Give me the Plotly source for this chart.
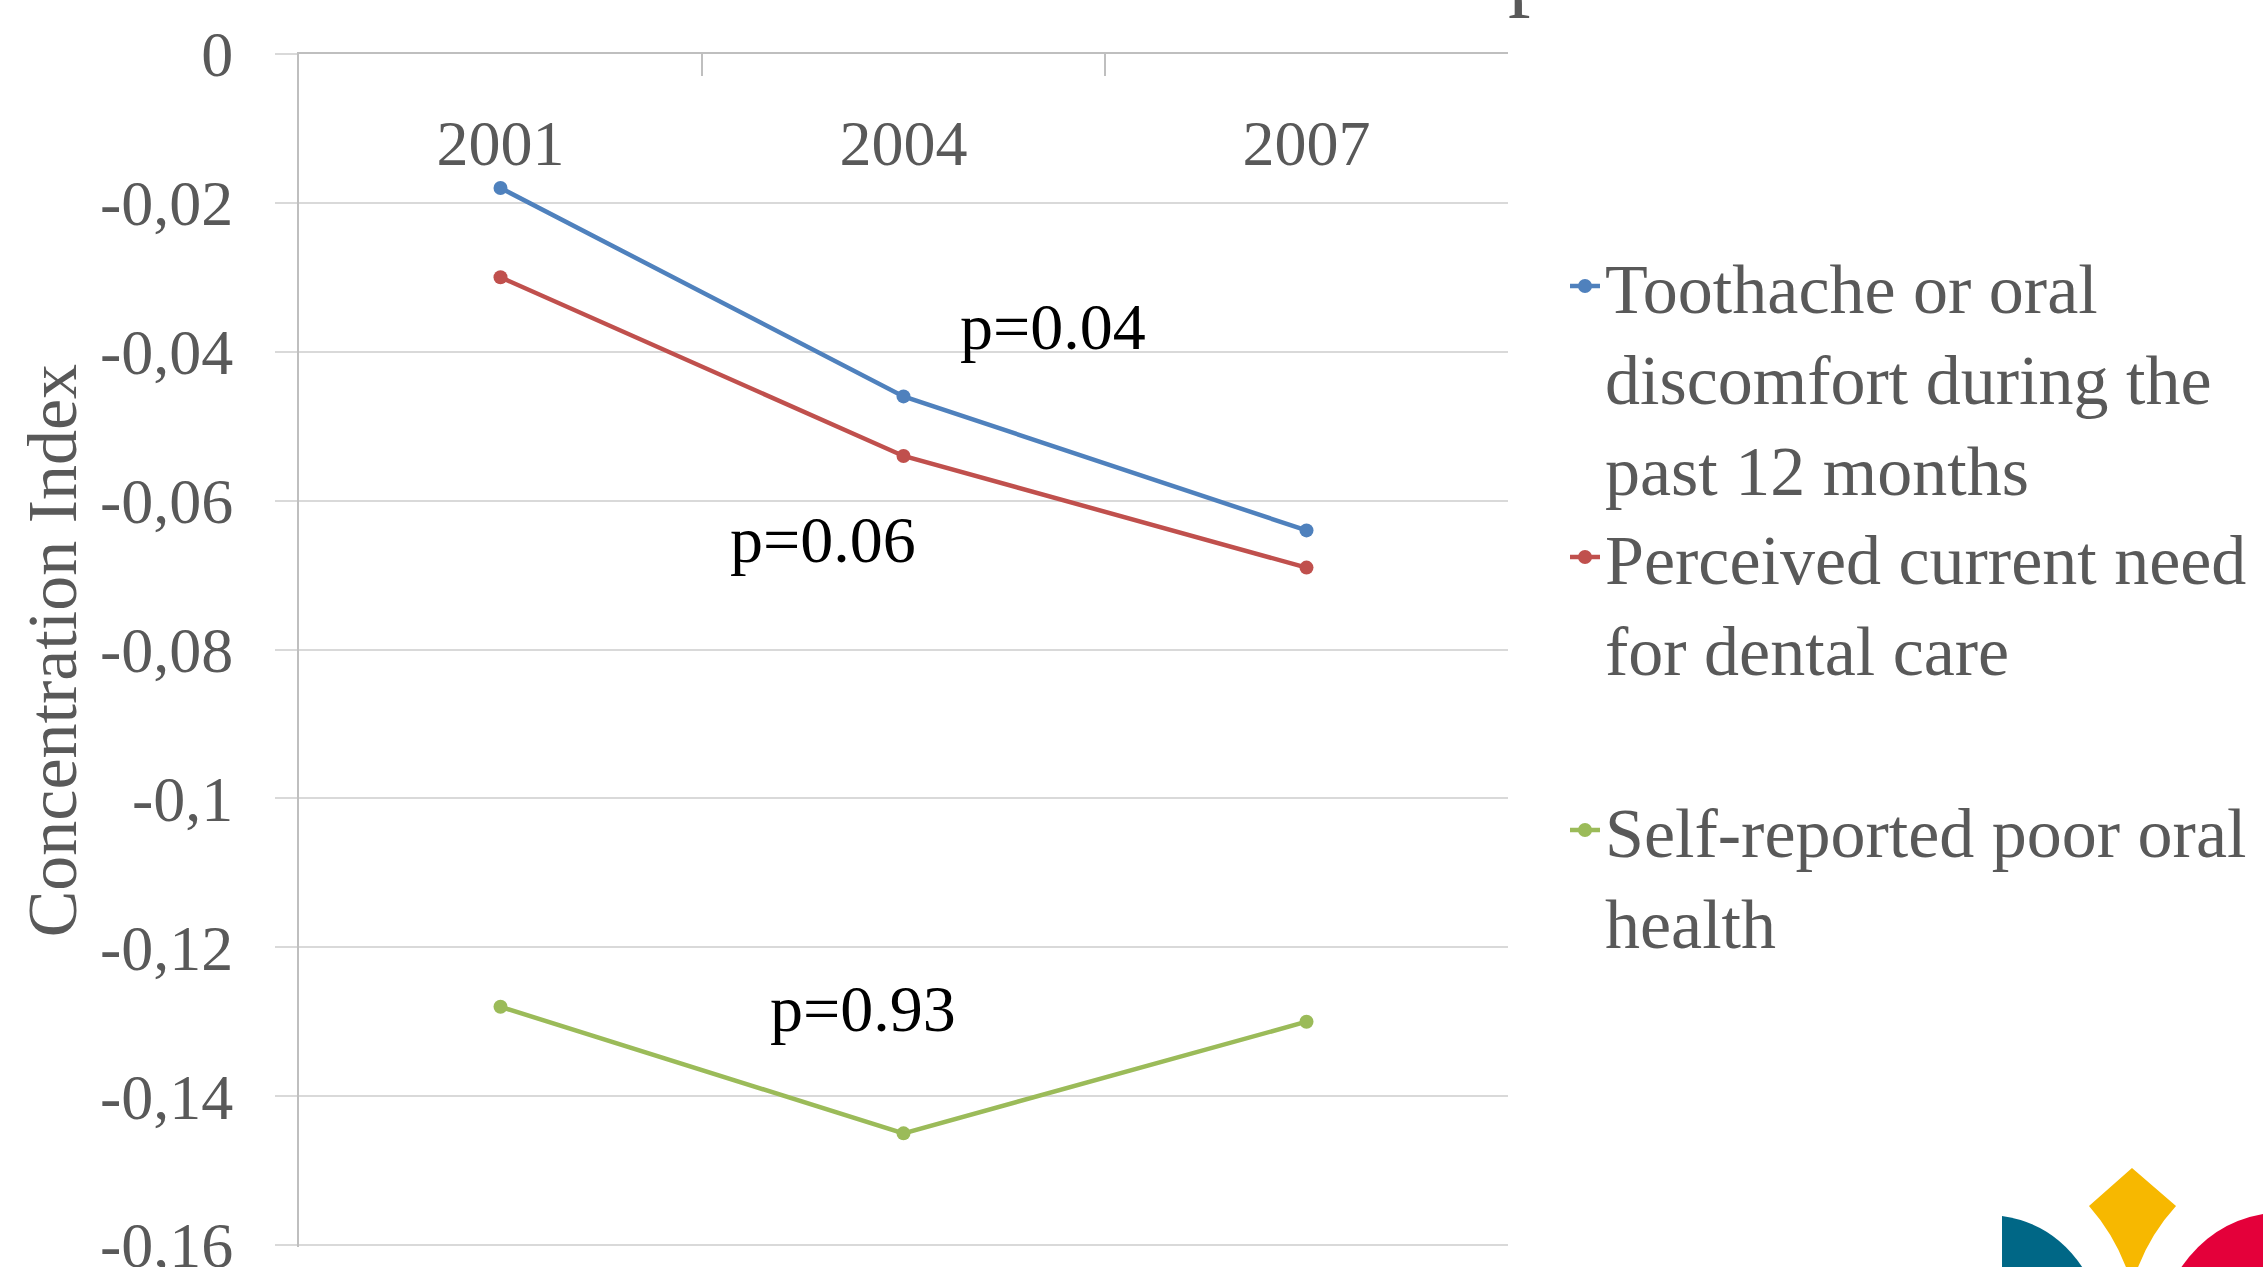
import plotly.graph_objects as go

# Page size in pixels
W, H = 2263, 1267

# ---- data -------------------------------------------------------------
years = ["2001", "2004", "2007"]
toothache = [-0.018, -0.046, -0.064]
perceived_need = [-0.030, -0.054, -0.069]
poor_oral_health = [-0.128, -0.145, -0.130]

series_names = [
    "Toothache or oral<br>discomfort during the<br>past 12 months",
    "Perceived current need<br>for dental care",
    "Self-reported poor oral<br>health",
]
series_colors = ["#4F81BD", "#C0504D", "#9BBB59"]

y_tickvals = [0, -0.02, -0.04, -0.06, -0.08, -0.10, -0.12, -0.14, -0.16]
y_ticktext = ["0", "-0,02", "-0,04", "-0,06", "-0,08", "-0,1", "-0,12", "-0,14", "-0,16"]

# trend-test p-values, placed by category index / index value
p_labels = ["p=0.04", "p=0.06", "p=0.93"]
p_x = [1.37, 0.80, 0.90]
p_y = [-0.0366, -0.0652, -0.1282]

# ---- helpers: pixel -> paper fraction (margins are zero) ----------------
def fx(px):
    return px / W


def fy(py):
    return 1 - py / H


TEXT = "#595959"
FONT = "Liberation Serif"

# value axis: 0 sits at y=54 px, -0.16 at y=1245 px; the range is padded a
# hair below -0.16 so that its gridline is still drawn
Y_TOP_PX, Y_BOT_PX = 54, 1245
Y_MIN, Y_MAX = -0.1603, 0.0
px_per_unit = (Y_BOT_PX - Y_TOP_PX) / 0.16
y_dom_bottom_px = Y_BOT_PX + (-0.16 - Y_MIN) * px_per_unit

fig = go.Figure()

legends = ["legend", "legend2", "legend3"]
for vals, name, color, leg in zip(
    [toothache, perceived_need, poor_oral_health], series_names, series_colors, legends
):
    fig.add_trace(
        go.Scatter(
            x=years,
            y=vals,
            mode="lines+markers",
            name=name,
            line=dict(color=color, width=4.5),
            marker=dict(color=color, size=14),
            legend=leg,
        )
    )

# empty series that carries the year-label axis (x2)
fig.add_trace(
    go.Scatter(
        x=years, y=[None] * len(years), xaxis="x2", yaxis="y",
        mode="markers", showlegend=False, hoverinfo="skip",
    )
)

for txt, xv, yv in zip(p_labels, p_x, p_y):
    fig.add_annotation(
        x=xv, y=yv, xref="x", yref="y", text=txt, showarrow=False,
        font=dict(family=FONT, size=66, color="#000000"),
        xanchor="center", yanchor="middle",
    )

# descender of the slide heading that runs above the chart
fig.add_annotation(
    x=fx(1530), y=fy(19), xref="paper", yref="paper", text="p", showarrow=False,
    font=dict(family=FONT, size=90, color=TEXT),
    xanchor="center", yanchor="bottom", borderpad=0,
)

# ---- logo in the lower-right corner ------------------------------------
def path(cmds):
    out = []
    for c in cmds:
        if isinstance(c, str):
            out.append(c)
        else:
            out.append(f"{fx(c[0]):.5f},{fy(c[1]):.5f}")
    return " ".join(out)


logo = [
    ("#F7B800", ["M", (2132, 1168), "L", (2176, 1206), "Q", (2145, 1240), (2132, 1285),
                 "Q", (2119, 1240), (2089, 1206), "Z"]),
    ("#006786", ["M", (2002, 1216), "Q", (2065, 1225), (2095, 1290), "L", (2002, 1290), "Z"]),
    ("#E4003A", ["M", (2263, 1214), "Q", (2200, 1225), (2168, 1290), "L", (2263, 1290), "Z"]),
]
for color, cmds in logo:
    fig.add_shape(
        type="path", path=path(cmds), xref="paper", yref="paper",
        fillcolor=color, line=dict(width=0), layer="above",
    )

# ---- layout -------------------------------------------------------------
legend_common = dict(
    xanchor="left", yanchor="top", valign="top",
    font=dict(family=FONT, size=70, color=TEXT),
    bgcolor="rgba(0,0,0,0)", borderwidth=0, itemwidth=30,
)

fig.update_layout(
    width=W,
    height=H,
    margin=dict(l=0, r=0, t=0, b=0, autoexpand=False),
    paper_bgcolor="white",
    plot_bgcolor="white",
    showlegend=True,
    font=dict(family=FONT, color=TEXT),
    legend=dict(x=fx(1565), y=fy(234), **legend_common),
    legend2=dict(x=fx(1565), y=fy(505), **legend_common),
    legend3=dict(x=fx(1565), y=fy(778), **legend_common),
    # category axis crossing at 0: line and boundary ticks along the top
    xaxis=dict(
        domain=[fx(299), fx(1508)],
        type="category",
        range=[-0.5, 2.5],
        side="top",
        automargin=False,
        showline=True, linecolor="#BFBFBF", linewidth=2,
        ticks="inside", tickson="boundaries", ticklen=22,
        tickcolor="#BFBFBF", tickwidth=2,
        showticklabels=False,
        showgrid=False, zeroline=False,
    ),
    # year labels sitting just under the top line
    xaxis2=dict(
        overlaying="x",
        anchor="free",
        position=fy(100),
        side="bottom",
        type="category",
        range=[-0.5, 2.5],
        automargin=False,
        showline=False, ticks="",
        showgrid=False, zeroline=False,
        tickfont=dict(family=FONT, size=64, color=TEXT),
    ),
    yaxis=dict(
        domain=[fy(y_dom_bottom_px), fy(Y_TOP_PX)],
        range=[Y_MIN, Y_MAX],
        automargin=False,
        tickvals=y_tickvals, ticktext=y_ticktext,
        ticklabeloverflow="allow",
        showline=True, linecolor="#BFBFBF", linewidth=2,
        ticks="outside", ticklen=22, tickcolor="#D9D9D9", tickwidth=2,
        ticklabelstandoff=29,
        tickfont=dict(family=FONT, size=64, color=TEXT),
        showgrid=True, gridcolor="#D9D9D9", gridwidth=2,
        zeroline=False,
        title=dict(text="Concentration Index", standoff=0,
                   font=dict(family=FONT, size=70, color=TEXT)),
    ),
)

fig.write_html("out.html")
